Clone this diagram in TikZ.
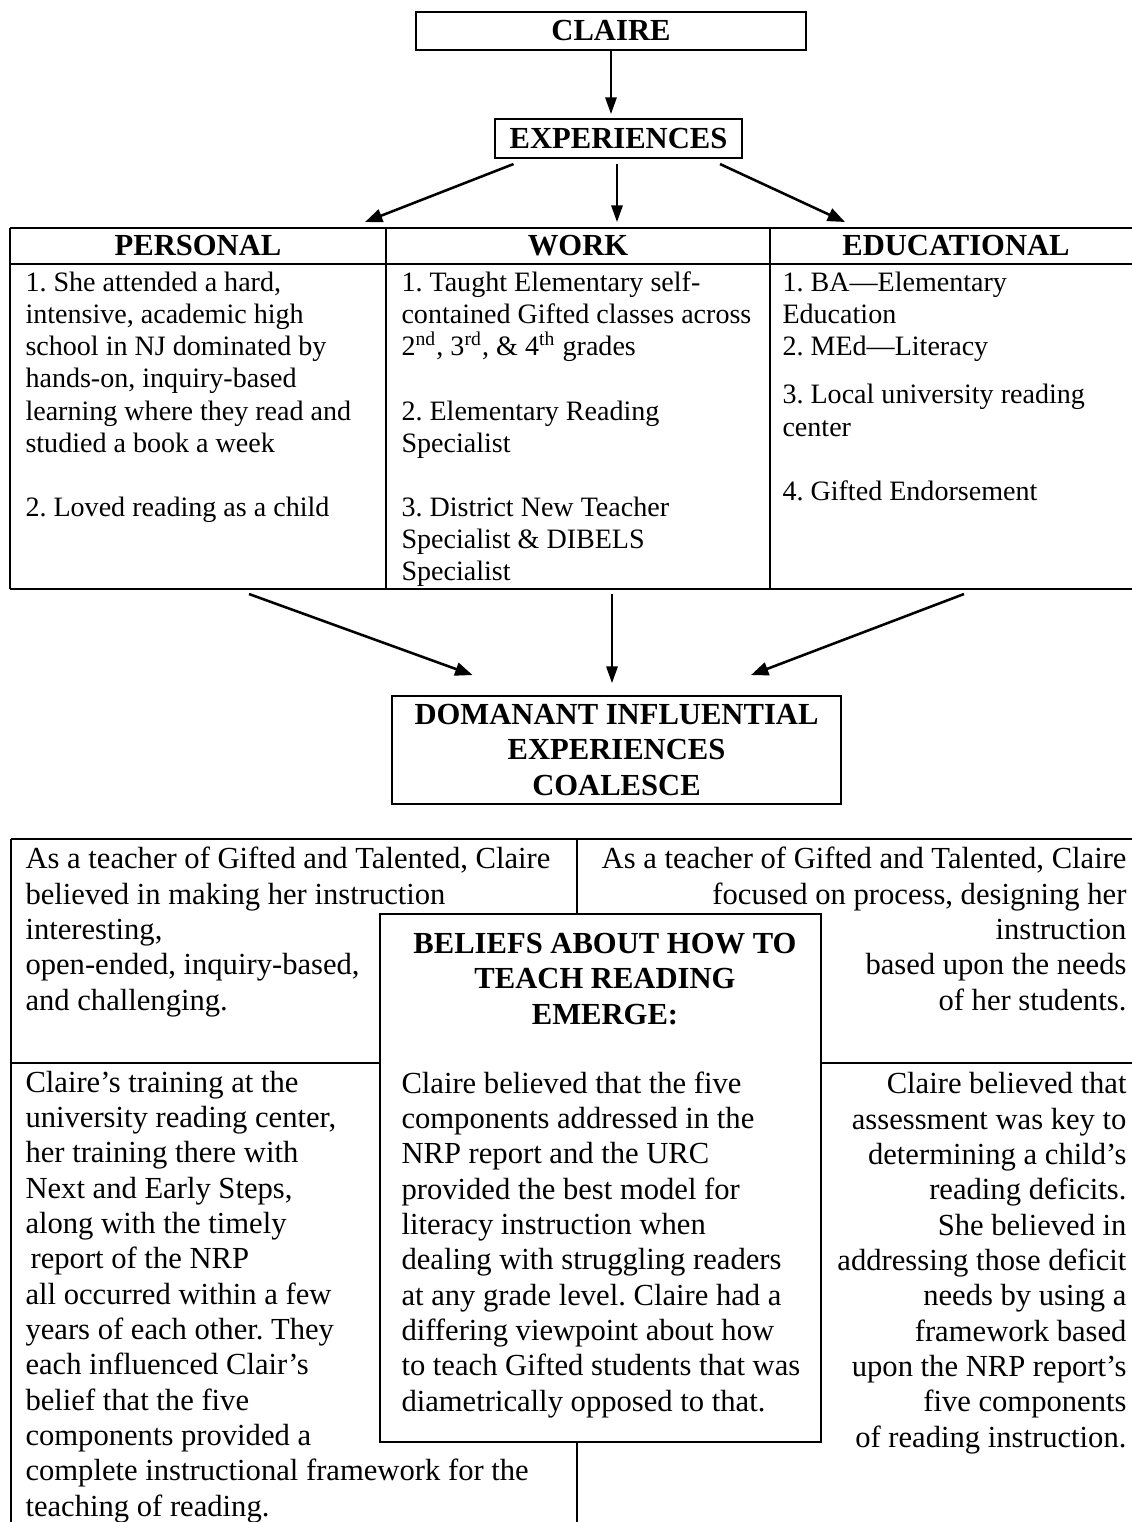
\documentclass[tikz,border=0pt]{standalone}
\usepackage{fontspec}
\setmainfont{Liberation Serif}
\usepackage{tikz}
\usetikzlibrary{arrows.meta,calc,positioning}

\newcommand{\tabfont}{\fontsize{11}{12.6}\selectfont}
\newcommand{\bodyfont}{\fontsize{12}{13.85}\selectfont}
\newcommand{\headfont}{\fontsize{12}{13.85}\selectfont\bfseries}
\frenchspacing

\begin{document}
\begin{tikzpicture}[x=0.392pt, y=-0.392pt,
    box/.style={draw, line width=0.8pt, inner sep=0pt, font=\headfont, align=center},
    arr/.style={-{Triangle[length=6.8pt,width=5.2pt]}, line width=1pt},
    thinarr/.style={-{Triangle[length=6.5pt,width=4.5pt]}, line width=0.6pt},
    rule/.style={line width=0.8pt},
    thinrule/.style={line width=0.6pt},
    head/.style={inner sep=0pt, font=\headfont},
    cell/.style={inner sep=0pt, align=left, font=\tabfont},
    para/.style={inner sep=0pt, align=left, font=\bodyfont},
    rpara/.style={inner sep=0pt, align=right, font=\bodyfont}]
    \useasboundingbox (0,0) rectangle (1132,1522);

    % Claire and her experiences
    \node[box, minimum width=152.9pt, minimum height=14.9pt] (claire) at (611,31) {CLAIRE};
    \node[box, minimum width=96.8pt, minimum height=15.3pt] (exp) at (618.5,138.5) {EXPERIENCES};
    \draw[thinarr] (claire.south) -- ($(claire.south |- exp.north)+(0,-4)$);

    \coordinate (toPers) at (365,222);
    \coordinate (toWork) at (617,222);
    \coordinate (toEdu) at (845,222);
    \draw[arr] ($(exp.south)+(-105,5)$) -- (toPers);
    \draw[thinarr] ($(exp.south)+(-1.5,5)$) -- (toWork);
    \draw[arr] ($(exp.south)+(101.5,5)$) -- (toEdu);

    % table of experiences (last baselines given)
    \draw[rule] (10,228) -- (1132,228) (10,264) -- (1132,264) (10,589) -- (1132,589);
    \draw[rule] (10,228) -- (10,589) (386,228) -- (386,589) (770,228) -- (770,589);
    \node[head] (pers) at (198,246) {PERSONAL};
    \node[head] (work) at (578,246) {WORK};
    \node[head] (edu) at (956,246) {EDUCATIONAL};

    \node[cell, anchor=base west] (persTxt) at (25,516.5) {1. She attended a hard,\\intensive, academic high\\school in NJ dominated by\\hands-on, inquiry-based\\learning where they read and\\studied a book a week\\[12.6pt]2. Loved reading as a child};
    \node[cell, anchor=base west] (workTxt) at (401,580.8) {1. Taught Elementary self-\\contained Gifted classes across\\2\textsuperscript{nd}, 3\textsuperscript{rd}, \& 4\textsuperscript{th} grades\\[12.6pt]2. Elementary Reading\\Specialist\\[12.6pt]3. District New Teacher\\Specialist \& DIBELS\\Specialist};
    \node[cell, anchor=base west] (eduTxt) at (782,500.3) {1. BA---Elementary\\Education\\2. MEd---Literacy\\[6.3pt]3. Local university reading\\center\\[12.6pt]4. Gifted Endorsement};

    % experiences coalesce
    \coordinate (fromPers) at (249,594);
    \coordinate (fromWork) at (612,594);
    \coordinate (fromEdu) at (964,594);
    \node[box, minimum width=176pt, minimum height=42.3pt] (dom) at (616.5,750) {DOMANANT INFLUENTIAL\\EXPERIENCES\\COALESCE};
    \draw[arr] (fromPers) -- ($(dom.north)+(-144,-20)$);
    \draw[thinarr] (fromWork) -- ($(dom.north)+(-4.5,-12)$);
    \draw[arr] (fromEdu) -- ($(dom.north)+(134.5,-20)$);

    % beliefs
    \draw[thinrule] (11,839) -- (1132,839) (11,1063) -- (1132,1063) (11,839) -- (11,1522) (577,839) -- (577,1522);
    \node[box, fill=white, minimum width=172.9pt, minimum height=207pt] (beliefs) at (600.5,1178) {};
    \node[head, align=center, anchor=base] (belTitle) at (605,1024) {BELIEFS ABOUT HOW TO\\TEACH READING\\EMERGE:};
    \node[para, anchor=base west] (belTxt) at (401,1411) {Claire believed that the five\\components addressed in the\\NRP report and the URC\\provided the best model for\\literacy instruction when\\dealing with struggling readers\\at any grade level. Claire had a\\differing viewpoint about how\\to teach Gifted students that was\\diametrically opposed to that.};

    \node[para, anchor=base west] (giftA) at (25,1010) {As a teacher of Gifted and Talented, Claire\\believed in making her instruction\\interesting,\\open-ended, inquiry-based,\\and challenging.};
    \node[rpara, anchor=base east] (giftB) at (1127,1010) {As a teacher of Gifted and Talented, Claire\\focused on process, designing her\\instruction\\based upon the needs\\of her students.};
    \node[para, anchor=base west] (training) at (25,1516) {Claire's training at the\\university reading center,\\her training there with\\Next and Early Steps,\\along with the timely\\\hspace{2pt}report of the NRP\\all occurred within a few\\years of each other. They\\each influenced Clair's\\belief that the five\\components provided a\\complete instructional framework for the\\teaching of reading.};
    \node[rpara, anchor=base east] (assess) at (1127,1447) {Claire believed that\\assessment was key to\\determining a child's\\reading deficits.\\She believed in\\addressing those deficit\\needs by using a\\framework based\\upon the NRP report's\\five components\\of reading instruction.};
\end{tikzpicture}
\end{document}
